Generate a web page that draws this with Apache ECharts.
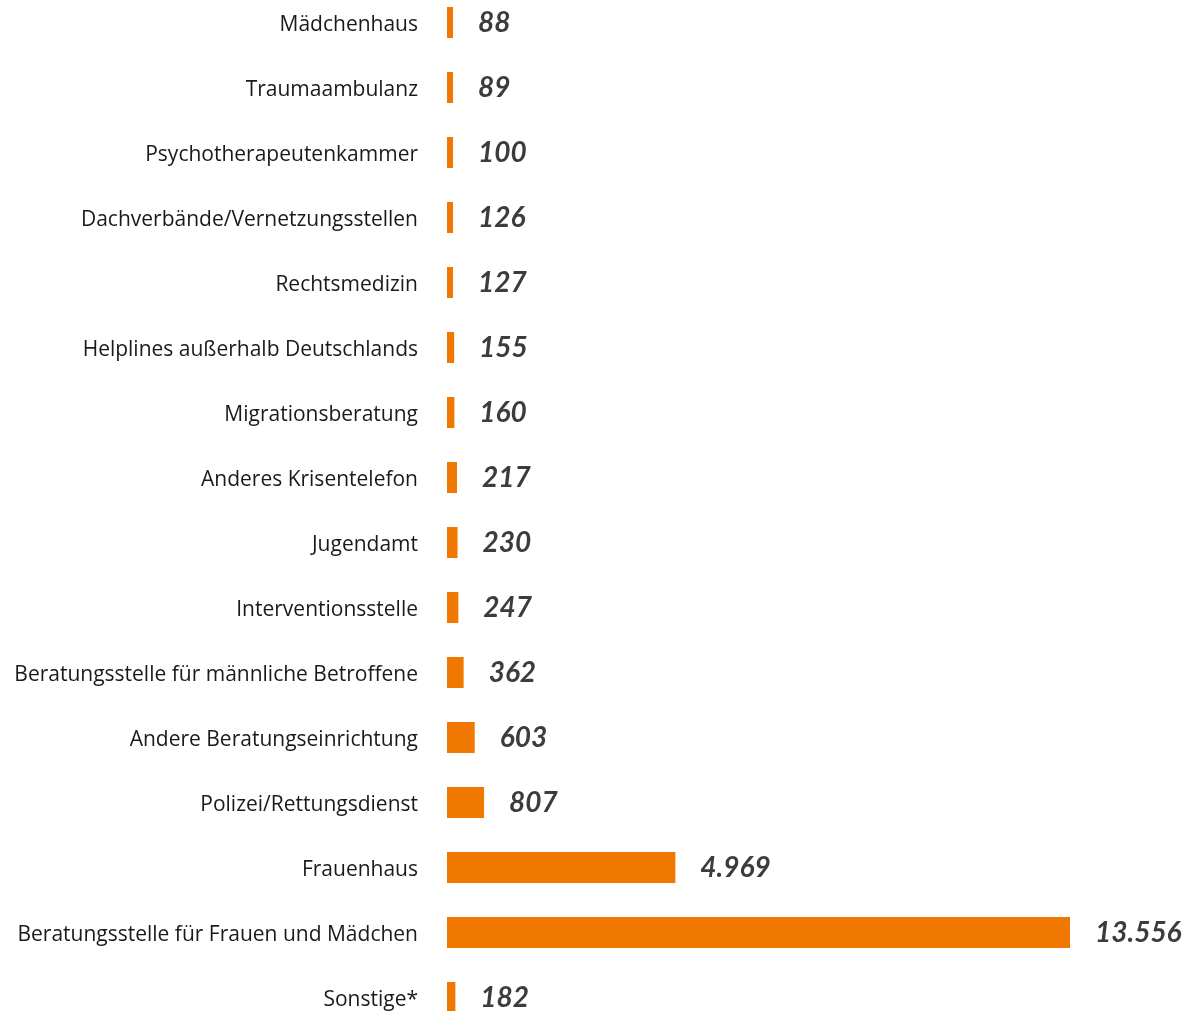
<!DOCTYPE html>
<html>
<head>
<meta charset="utf-8">
<script src="https://cdn.jsdelivr.net/npm/echarts@6/dist/echarts.min.js"></script>
<style>
  html, body { margin: 0; padding: 0; background: #fff; overflow: hidden; }
  /* Zeilenraster: 16 Zeilen à 65px, erste Zeile leicht oberhalb des Rands */
  #chart { width: 1197px; height: 1040px; margin-top: -10px; }
</style>
</head>
<body>
<div id="chart"></div>
<script>
// Kategorien von oben nach unten
const categories = [
    'Mädchenhaus',
    'Traumaambulanz',
    'Psychotherapeutenkammer',
    'Dachverbände/Vernetzungsstellen',
    'Rechtsmedizin',
    'Helplines außerhalb Deutschlands',
    'Migrationsberatung',
    'Anderes Krisentelefon',
    'Jugendamt',
    'Interventionsstelle',
    'Beratungsstelle für männliche Betroffene',
    'Andere Beratungseinrichtung',
    'Polizei/Rettungsdienst',
    'Frauenhaus',
    'Beratungsstelle für Frauen und Mädchen',
    'Sonstige*'
];
const values = [88, 89, 100, 126, 127, 155, 160, 217, 230, 247, 362, 603, 807, 4969, 13556, 182];

const chart = echarts.init(document.getElementById('chart'));

// Tausenderpunkt wie im Original: 4.969
function fmt(v) {
    return String(v).replace(/\B(?=(\d{3})+(?!\d))/g, '.');
}

const option = {
    animation: false,
    grid: {
        left: 447,
        right: 127,
        top: 0,
        bottom: 0,
        containLabel: false
    },
    xAxis: {
        type: 'value',
        min: 0,
        max: 13556,
        show: false
    },
    yAxis: {
        type: 'category',
        inverse: true,
        data: categories,
        axisLine: { show: false },
        axisTick: { show: false },
        axisLabel: {
            margin: 29,
            formatter: (v) => '{t|' + v + '}',
            rich: {
                // etwas tiefer setzen als die Zeilenmitte
                t: {
                    color: '#1a1a1a',
                    fontFamily: 'Open Sans',
                    fontSize: 21,
                    padding: [6, 0, 0, 0]
                }
            }
        }
    },
    series: [
        {
            type: 'bar',
            data: values,
            barWidth: 31,
            barMinHeight: 6,
            itemStyle: { color: '#f07800' },
            label: {
                show: true,
                position: 'right',
                distance: 25,
                color: '#3c3c3c',
                fontFamily: 'Lato',
                fontStyle: 'italic',
                fontWeight: 'bold',
                fontSize: 28,
                formatter: (p) => fmt(p.value)
            }
        }
    ]
};
chart.setOption(option);
</script>
</body>
</html>
